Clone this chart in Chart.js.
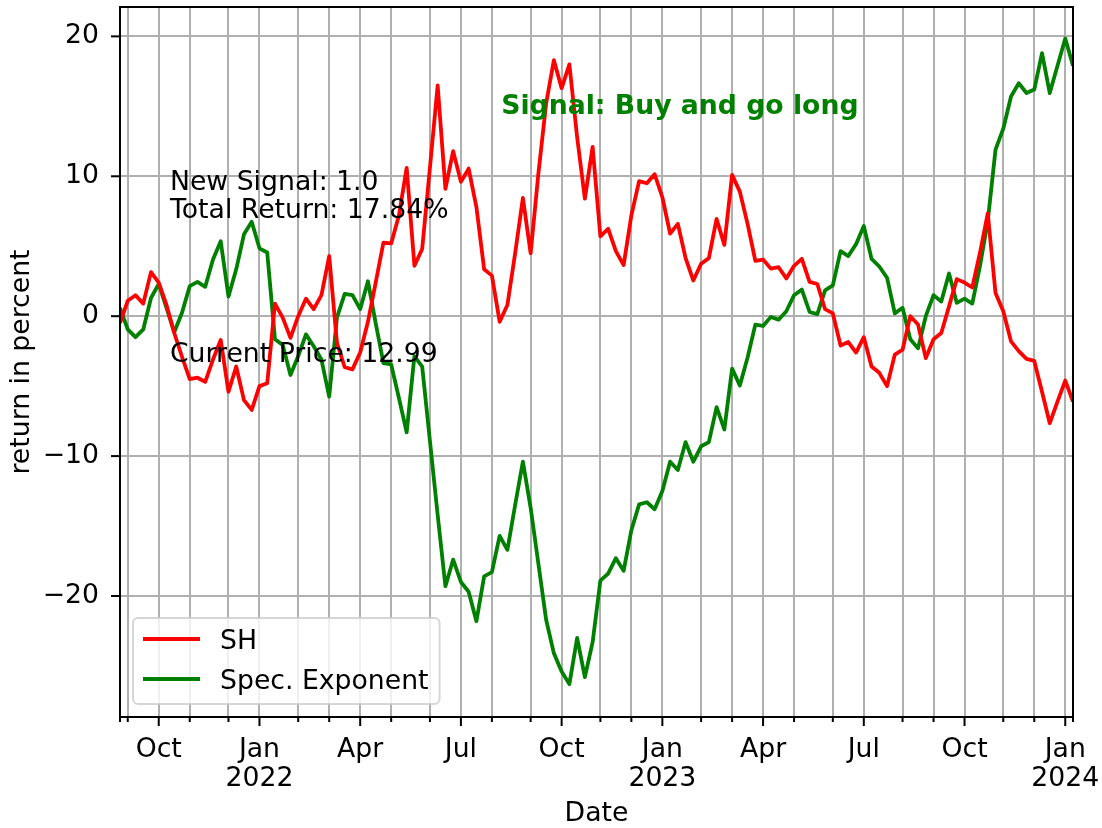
<!DOCTYPE html>
<html lang="en">
<head>
<meta charset="UTF-8">
<title>SH vs Spec. Exponent</title>
<script src="https://cdn.jsdelivr.net/npm/chart.js"></script>
<style>
    body { margin: 0; padding: 0; overflow: hidden; background: white; }
    #chart { display: block; }
</style>
</head>
<body>
<canvas id="chart" width="1102" height="828"></canvas>
<script>
    // one point per week, index 0 = week of 30 Aug 2021, index 123 = week of 8 Jan 2024
    const shReturn = [
        -0.5, 1.1, 1.5, 0.9, 3.15, 2.4, 0.8, -1.2, -2.9, -4.5,
        -4.4, -4.7, -3.1, -1.7, -5.4, -3.6, -6.0, -6.7, -5.0, -4.8,
        0.9, -0.1, -1.55, 0.0, 1.25, 0.5, 1.5, 4.3, -1.9, -3.65,
        -3.8, -2.6, -0.4, 2.4, 5.25, 5.2, 7.2, 10.6, 3.6, 4.8,
        10.6, 16.5, 9.1, 11.8, 9.6, 10.55, 7.8, 3.35, 2.9, -0.4,
        0.8, 4.5, 8.45, 4.5, 10.2, 15.2, 18.3, 16.3, 18.0, 12.8,
        8.4, 12.1, 5.7, 6.25, 4.65, 3.65, 7.2, 9.65, 9.5, 10.15,
        8.5, 5.9, 6.6, 4.15, 2.55, 3.75, 4.15, 6.95, 5.1, 10.1,
        8.9, 6.6, 3.95, 4.05, 3.4, 3.5, 2.7, 3.6, 4.1, 2.45,
        2.3, 0.5, 0.2, -2.1, -1.85, -2.6, -1.5, -3.6, -4.05, -5.0,
        -2.75, -2.4, 0.0, -0.6, -3.0, -1.65, -1.2, 0.7, 2.65, 2.4,
        2.05, 4.55, 7.35, 1.65, 0.35, -1.8, -2.5, -3.05, -3.2, -5.4,
        -7.65, -6.1, -4.6, -6.1
    ];
    const specExponent = [
        0.6, -0.95, -1.5, -0.95, 1.3, 2.3, 0.6, -1.15, 0.25, 2.15,
        2.45, 2.1, 4.05, 5.35, 1.4, 3.35, 5.85, 6.75, 4.85, 4.55,
        -1.65, -2.05, -4.2, -2.85, -1.3, -2.15, -3.1, -5.75, -0.1, 1.6,
        1.5, 0.5, 2.5, -0.5, -3.35, -3.45, -5.85, -8.3, -2.85, -3.6,
        -8.9, -14.2, -19.3, -17.4, -19.0, -19.7, -21.8, -18.6, -18.3, -15.7,
        -16.7, -13.5, -10.4, -13.7, -17.7, -21.7, -24.1, -25.4, -26.3, -23.0,
        -25.8, -23.3, -18.9, -18.4, -17.3, -18.2, -15.3, -13.45, -13.3, -13.8,
        -12.5, -10.4, -11.0, -9.0, -10.4, -9.3, -9.0, -6.5, -8.1, -3.75,
        -4.95, -2.95, -0.6, -0.7, -0.05, -0.25, 0.35, 1.5, 1.9, 0.3,
        0.15, 1.85, 2.2, 4.65, 4.3, 5.15, 6.45, 4.1, 3.55, 2.75,
        0.2, 0.6, -1.65, -2.3, 0.0, 1.5, 1.05, 3.05, 0.95, 1.25,
        0.9, 3.6, 6.8, 11.9, 13.4, 15.7, 16.65, 15.95, 16.2, 18.8,
        15.95, 17.9, 19.85, 17.9
    ];

    // week index of the first week of each month (minor ticks), plus both ends
    const monthTicks = [0, 1, 5, 9, 14, 18, 23, 27, 31, 35, 40, 44, 48, 53, 57, 62, 66,
        70, 75, 79, 83, 87, 92, 96, 101, 105, 109, 114, 118, 122, 123];
    const quarterTicks = [5, 18, 31, 44, 57, 70, 83, 96, 109, 122];
    const quarterLabels = ['Oct', ['Jan', '2022'], 'Apr', 'Jul', 'Oct', ['Jan', '2023'],
        'Apr', 'Jul', 'Oct', ['Jan', '2024']];
    const yTicks = [-20, -10, 0, 10, 20];

    const noteLines = ['New Signal: 1.0', 'Total Return: 17.84%', 'Current Price: 12.99'];
    const noteX = 6.45;
    const noteY = [9.05, 7.05, -3.25];
    const signalText = 'Signal: Buy and go long';
    const signalX = 49.2;
    const signalY = 14.45;

    const FONT = '"DejaVu Sans", sans-serif';
    const FS = 26.7;

    function roundBox(ctx, x, y, w, h, r) {
        ctx.beginPath();
        ctx.moveTo(x + r, y);
        ctx.arcTo(x + w, y, x + w, y + h, r);
        ctx.arcTo(x + w, y + h, x, y + h, r);
        ctx.arcTo(x, y + h, x, y, r);
        ctx.arcTo(x, y, x + w, y, r);
        ctx.closePath();
    }

    const overlay = {
        id: 'overlay',
        afterDraw(chart) {
            const ctx = chart.ctx;
            const a = chart.chartArea;
            const xs = chart.scales.x, ys = chart.scales.y;
            ctx.save();

            // tick marks
            ctx.strokeStyle = 'black';
            ctx.lineWidth = 2;
            monthTicks.forEach(v => {
                const len = quarterTicks.includes(v) ? 9 : 5;
                const px = xs.getPixelForValue(v);
                ctx.beginPath();
                ctx.moveTo(px, a.bottom);
                ctx.lineTo(px, a.bottom + len);
                ctx.stroke();
            });
            yTicks.forEach(v => {
                const py = ys.getPixelForValue(v);
                ctx.beginPath();
                ctx.moveTo(a.left, py);
                ctx.lineTo(a.left - 9, py);
                ctx.stroke();
            });

            // spines
            ctx.strokeRect(a.left, a.top, a.right - a.left, a.bottom - a.top);

            // text notes
            ctx.font = FS + 'px ' + FONT;
            ctx.fillStyle = 'black';
            ctx.textAlign = 'left';
            ctx.textBaseline = 'alphabetic';
            noteLines.forEach((t, i) => {
                ctx.fillText(t, xs.getPixelForValue(noteX), ys.getPixelForValue(noteY[i]));
            });
            ctx.font = 'bold ' + FS + 'px ' + FONT;
            ctx.fillStyle = '#008000';
            ctx.fillText(signalText, xs.getPixelForValue(signalX), ys.getPixelForValue(signalY));

            // legend, lower left
            ctx.font = FS + 'px ' + FONT;
            const sets = chart.data.datasets;
            const textW = Math.max(...sets.map(d => ctx.measureText(d.label).width));
            const bx = a.left + 13, bh = 86;
            const by = a.bottom - 13 - bh;
            const bw = 87 + textW + 11;
            roundBox(ctx, bx, by, bw, bh, 5);
            ctx.fillStyle = 'rgba(255,255,255,0.8)';
            ctx.fill();
            ctx.strokeStyle = 'rgba(204,204,204,0.8)';
            ctx.lineWidth = 2;
            ctx.stroke();
            sets.forEach((d, i) => {
                const cy = by + 21 + i * 40;
                ctx.strokeStyle = d.borderColor;
                ctx.lineWidth = 3.8;
                ctx.beginPath();
                ctx.moveTo(bx + 10, cy);
                ctx.lineTo(bx + 67, cy);
                ctx.stroke();
                ctx.fillStyle = 'black';
                ctx.fillText(d.label, bx + 87, cy + 10);
            });
            ctx.restore();
        }
    };

    function lineSet(label, values, color) {
        return {
            label: label,
            data: values.map((v, i) => ({ x: i, y: v })),
            borderColor: color,
            borderWidth: 3.8,
            borderJoinStyle: 'round',
            pointRadius: 0,
            tension: 0,
            fill: false,
            clip: 0
        };
    }

    const gridStyle = { color: '#b0b0b0', lineWidth: 2, tickLength: 9, tickColor: 'rgba(0,0,0,0)' };

    new Chart(document.getElementById('chart'), {
        type: 'line',
        data: {
            datasets: [
                lineSet('SH', shReturn, '#ff0000'),
                lineSet('Spec. Exponent', specExponent, '#008000')
            ]
        },
        options: {
            responsive: false,
            animation: false,
            devicePixelRatio: 1,
            layout: { padding: { top: 7, right: 29, left: 0, bottom: 0 } },
            plugins: { legend: { display: false }, tooltip: { enabled: false } },
            scales: {
                x: {
                    type: 'linear',
                    min: 0,
                    max: 123,
                    afterBuildTicks: s => { s.ticks = monthTicks.map(v => ({ value: v })); },
                    afterFit: s => { s.height = 111; s.paddingLeft = 0; s.paddingRight = 0; },
                    grid: gridStyle,
                    border: { display: false },
                    ticks: {
                        autoSkip: false,
                        maxRotation: 0,
                        padding: 9,
                        color: 'black',
                        font: { family: FONT, size: FS, lineHeight: 1.11 },
                        callback: v => {
                            const k = quarterTicks.indexOf(v);
                            return k < 0 ? '' : quarterLabels[k];
                        }
                    },
                    title: {
                        display: true,
                        text: 'Date',
                        color: 'black',
                        font: { family: FONT, size: FS, lineHeight: 1 },
                        padding: { top: 0, bottom: 1 }
                    }
                },
                y: {
                    min: -28.65,
                    max: 22.1,
                    afterBuildTicks: s => { s.ticks = yTicks.map(v => ({ value: v })); },
                    afterFit: s => { s.width = 120; s.paddingTop = 0; s.paddingBottom = 0; },
                    grid: gridStyle,
                    border: { display: false },
                    ticks: {
                        padding: 12,
                        color: 'black',
                        font: { family: FONT, size: FS },
                        callback: v => (v < 0 ? '\u2212' + Math.abs(v) : String(v))
                    },
                    title: {
                        display: true,
                        text: 'return in percent',
                        color: 'black',
                        font: { family: FONT, size: FS, lineHeight: 1 },
                        padding: { top: 9, bottom: 0 }
                    }
                }
            }
        },
        plugins: [overlay]
    });
</script>
</body>
</html>
